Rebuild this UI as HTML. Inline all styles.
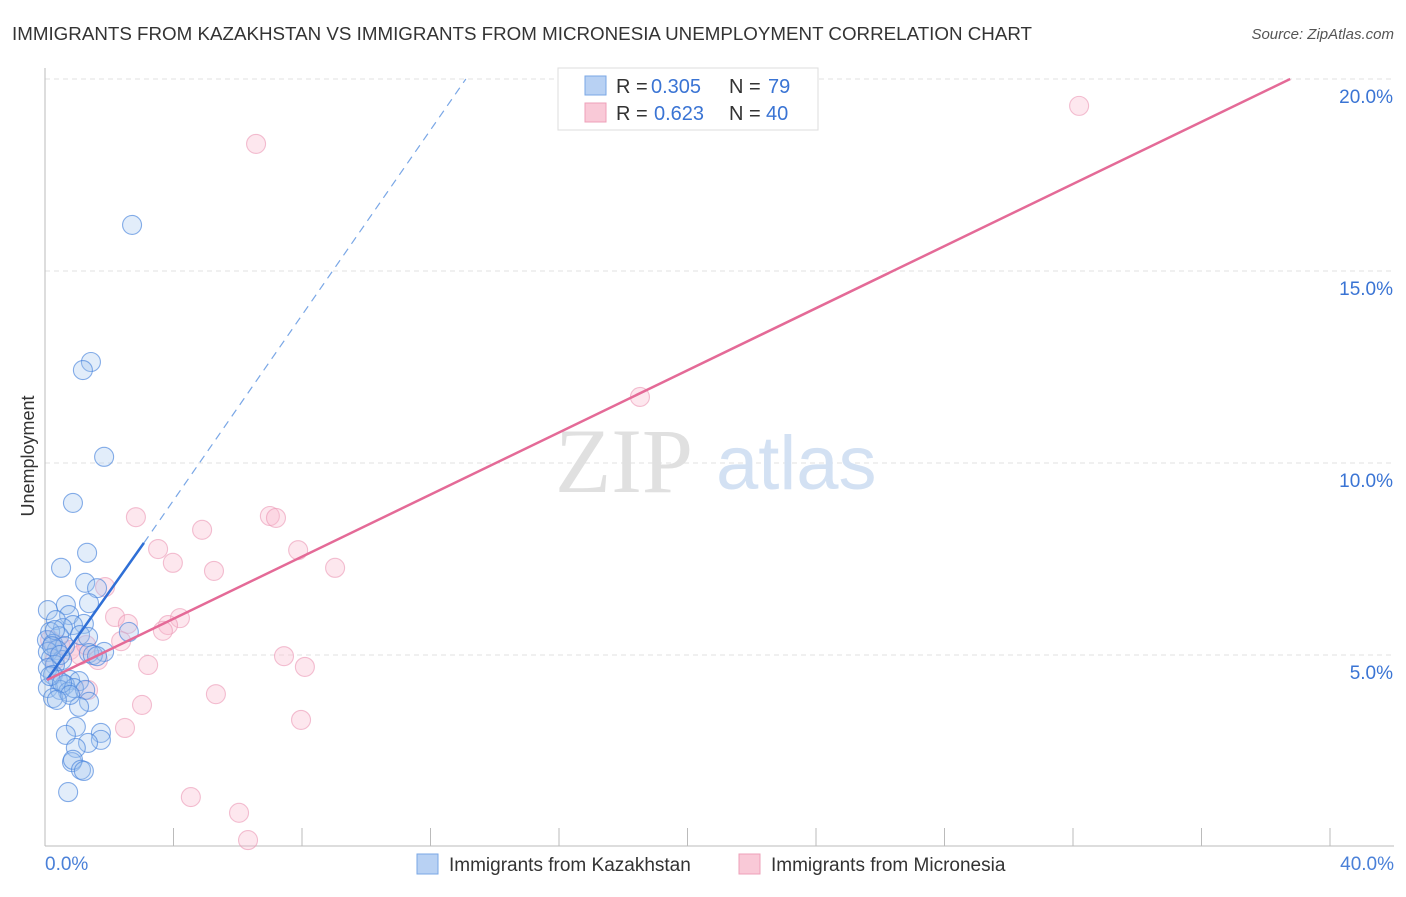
<!DOCTYPE html>
<html><head><meta charset="utf-8"><style>
body{margin:0;background:#fff;font-family:"Liberation Sans",sans-serif}
</style></head><body>
<svg id="chart" width="1406" height="892" xmlns="http://www.w3.org/2000/svg" font-family="Liberation Sans, sans-serif">
<text x="12" y="40" font-size="18" fill="#333" textLength="1020" lengthAdjust="spacingAndGlyphs">IMMIGRANTS FROM KAZAKHSTAN VS IMMIGRANTS FROM MICRONESIA UNEMPLOYMENT CORRELATION CHART</text>
<text x="1394" y="39" font-size="15" fill="#555" text-anchor="end" font-style="italic">Source: ZipAtlas.com</text>
<g id="grid"></g>
<text x="555" y="492" font-size="92" fill="#e0e0e0" font-family="Liberation Serif, serif">ZIP</text>
<text x="716" y="489" font-size="76" fill="#d3e1f3">atlas</text>
<g id="pts"></g>
<g id="lines"></g>
<text transform="translate(34,456) rotate(-90)" font-size="18" fill="#333" text-anchor="middle">Unemployment</text>
<g>
<rect x="558" y="68" width="260" height="62" fill="#fff" stroke="#ddd"/>
<rect x="585" y="76" width="21" height="19" fill="#b8d1f3" stroke="#7aa7e6"/>
<rect x="585" y="103" width="21" height="19" fill="#f9c9d7" stroke="#eea0b8"/>
<text x="616" y="93" font-size="20" fill="#333">R =</text>
<text x="651" y="93" font-size="20" fill="#3a74d4">0.305</text>
<text x="729" y="93" font-size="20" fill="#333">N =</text>
<text x="768" y="93" font-size="20" fill="#3a74d4">79</text>
<text x="616" y="120" font-size="20" fill="#333">R =</text>
<text x="654" y="120" font-size="20" fill="#3a74d4">0.623</text>
<text x="729" y="120" font-size="20" fill="#333">N =</text>
<text x="766" y="120" font-size="20" fill="#3a74d4">40</text>
</g>
<g>
<rect x="417" y="854" width="21" height="20" fill="#b8d1f3" stroke="#7aa7e6"/>
<text x="449" y="871" font-size="19" fill="#333">Immigrants from Kazakhstan</text>
<rect x="739" y="854" width="21" height="20" fill="#f9c9d7" stroke="#eea0b8"/>
<text x="771" y="871" font-size="19" fill="#333">Immigrants from Micronesia</text>
</g>
</svg>
<script>
const blueX=[2.71,1.43,1.18,1.84,0.87,1.31,0.50,1.25,1.62,1.37,0.65,0.09,0.75,0.34,1.21,0.87,0.56,2.61,0.16,1.09,0.44,1.34,0.06,0.25,0.62,0.37,0.09,1.84,1.37,1.49,1.62,0.19,0.53,0.31,0.09,0.25,0.40,0.78,1.06,0.62,0.09,0.47,0.72,0.90,1.25,0.25,1.37,1.06,0.96,0.65,1.74,1.74,1.34,0.96,0.84,0.87,1.12,1.21,0.72,0.31,0.22,0.47,0.16,0.53,0.78,0.37];
const blueY=[16.20,12.63,12.42,10.16,8.96,7.66,7.27,6.88,6.74,6.35,6.30,6.17,6.04,5.91,5.81,5.78,5.70,5.60,5.60,5.52,5.49,5.47,5.39,5.29,5.23,5.13,5.08,5.08,5.05,5.00,4.97,4.92,4.87,4.74,4.66,4.48,4.35,4.35,4.32,4.22,4.14,4.09,4.04,4.14,4.09,3.88,3.78,3.65,3.13,2.92,2.97,2.79,2.71,2.58,2.21,2.27,2.01,1.98,1.43,5.65,5.23,5.00,4.45,4.27,3.96,3.83];
const pinkX=[32.19,6.57,18.52,2.83,7.00,7.19,4.89,3.52,7.88,3.98,5.26,9.03,1.87,2.18,4.20,2.58,3.83,3.67,2.37,0.16,0.47,0.78,1.09,1.28,1.65,0.31,3.21,7.44,8.09,1.34,5.32,3.02,7.97,2.49,4.54,6.04,6.32];
const pinkY=[19.30,18.31,11.72,8.59,8.62,8.57,8.26,7.76,7.73,7.40,7.19,7.27,6.77,5.99,5.96,5.81,5.78,5.63,5.36,5.39,5.26,5.13,5.00,5.26,4.87,4.87,4.74,4.97,4.69,4.09,3.98,3.70,3.31,3.10,1.30,0.89,0.18];
const yTicks=[5,10,15,20];
const yTickLabels=["5.0%","10.0%","15.0%","20.0%"];
const xTicks=[0,4,8,12,16,20,24,28,32,36,40];
const blueTrend=[0.06,4.35,3.08,7.92,13.1,20];
const pinkTrend=[0.06,4.35,38.76,20];
const NS='http://www.w3.org/2000/svg';
const sx=v=>45+v*32.125, sy=v=>847-v*38.4;
function mk(p,tag,a){const e=document.createElementNS(NS,tag);for(const k in a)e.setAttribute(k,a[k]);p.appendChild(e);return e;}
const g=document.getElementById('grid');
yTicks.forEach((t,i)=>{
 const l=mk(g,'line',{x1:45,x2:1394,y1:sy(t),y2:sy(t),stroke:'#e2e2e2','stroke-dasharray':'5,4'});
 
 
 const tx=mk(g,'text',{x:1393,y:sy(t)+24,'font-size':19,fill:'#3a74d4','text-anchor':'end','font-weight':'300'});
 tx.textContent=yTickLabels[i];
 
 
});
const ax=mk(g,'line',{x1:45,x2:45,y1:68,y2:846,stroke:'#bbb'});


const bx=mk(g,'line',{x1:45,x2:1394,y1:846,y2:846,stroke:'#bbb'});


xTicks.forEach(t=>{const l=mk(g,'line',{x1:sx(t),x2:sx(t),y1:828,y2:846,stroke:'#bbb'});
 
 });
const x0=mk(g,'text',{x:45,y:870,'font-size':19,fill:'#4a80d8'});x0.textContent='0.0%';


const x1=mk(g,'text',{x:1394,y:870,'font-size':19,fill:'#4a80d8','text-anchor':'end'});x1.textContent='40.0%';


const p=document.getElementById('pts');
pinkX.forEach((x,i)=>{const c=mk(p,'circle',{cx:sx(x),cy:sy(pinkY[i]),r:9.5,fill:'rgba(248,185,205,0.35)',stroke:'rgba(235,150,180,0.6)','stroke-width':1.1});
 
 });
blueX.forEach((x,i)=>{const c=mk(p,'circle',{cx:sx(x),cy:sy(blueY[i]),r:9.5,fill:'rgba(160,195,240,0.3)',stroke:'rgba(70,130,220,0.65)','stroke-width':1.1});
 
 });
const L=document.getElementById('lines');
const b1=mk(L,'line',{x1:sx(blueTrend[0]),y1:sy(blueTrend[1]),x2:sx(blueTrend[2]),y2:sy(blueTrend[3]),stroke:'#2f6fd6','stroke-width':2.5});


const b2=mk(L,'line',{x1:sx(blueTrend[2]),y1:sy(blueTrend[3]),x2:sx(blueTrend[4]),y2:sy(blueTrend[5]),stroke:'#7aa7e6','stroke-width':1.2,'stroke-dasharray':'8,6'});


const pk=mk(L,'line',{x1:sx(pinkTrend[0]),y1:sy(pinkTrend[1]),x2:sx(pinkTrend[2]),y2:sy(pinkTrend[3]),stroke:'#e46a97','stroke-width':2.5});


</script>
</body></html>
